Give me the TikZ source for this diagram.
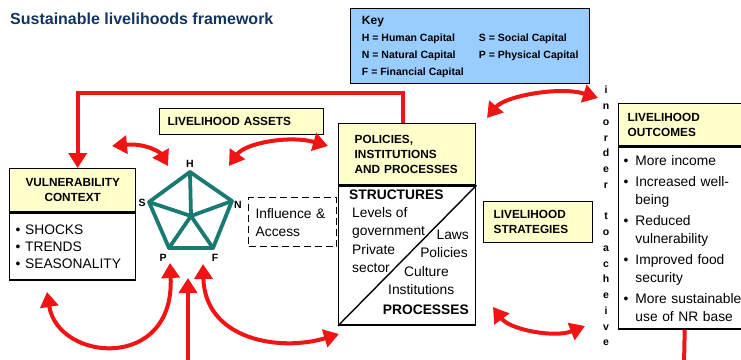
\documentclass[tikz,border=0pt]{standalone}
\usepackage{fontspec}
\setmainfont{Liberation Sans}
\usetikzlibrary{arrows.meta}

\definecolor{slred}{RGB}{240,20,20}
\definecolor{slyellow}{RGB}{255,255,204}
\definecolor{slblue}{RGB}{153,204,255}
\definecolor{slteal}{RGB}{24,122,112}
\definecolor{sltitle}{RGB}{20,52,96}

\begin{document}
\begin{tikzpicture}[x=1pt, y=-1pt, >={Triangle[length=15pt,width=18pt]},
    box/.style={draw, line width=1.4pt, anchor=north west, inner ysep=0pt},
    head/.style={box, fill=slyellow, align=left, font=\fontsize{11.8}{15}\selectfont\bfseries},
    body/.style={box, align=left, font=\fontsize{13.8}{18}\selectfont},
    txt/.style={inner sep=0pt, font=\fontsize{13.8}{18}\selectfont},
    tag/.style={inner sep=0pt, font=\fontsize{10.5}{12}\selectfont\bfseries},
    pent/.style={slteal, line width=3.8pt, line join=round, line cap=round},
    flow/.style={slred, line width=4pt}]

    \useasboundingbox (0,0) rectangle (741,359);

    \node[anchor=base west, inner sep=0pt, text=sltitle, font=\fontsize{16}{18}\selectfont\bfseries] (title) at (10,24) {Sustainable livelihoods framework};

    % key
    \node[box, fill=slblue, minimum width=239pt, minimum height=75pt, font=\fontsize{10.5}{17}\selectfont\bfseries] (key) at (350,8) {%
        \begin{tabular}{@{}p{117pt}@{}l@{}}
            \multicolumn{2}{@{}l}{\fontsize{12}{14}\selectfont Key}\\
            H = Human Capital & S = Social Capital\\
            N = Natural Capital & P = Physical Capital\\
            F = Financial Capital &
        \end{tabular}};

    % boxes
    \node[head, text width=118pt, inner xsep=4pt, align=center, minimum height=43pt] (vulh) at (9,168) {VULNERABILITY\\CONTEXT};
    \node[body, text width=114pt, inner xsep=6pt, minimum height=67pt, font=\fontsize{13.8}{17}\selectfont] (vulb) at (vulh.south west) {\textbullet~SHOCKS\\ \textbullet~TRENDS\\ \textbullet~SEASONALITY};

    \node[head, text width=148pt, inner xsep=8pt, minimum height=26pt] (assets) at (159,108) {LIVELIHOOD ASSETS};

    \node[box, dash pattern=on 7pt off 4pt, line width=1.3pt, text width=74pt, inner xsep=7pt, minimum height=49pt, align=left, font=\fontsize{13.8}{18}\selectfont] (infl) at (248,197) {Influence \&\\Access};

    \node[head, text width=105pt, inner xsep=16pt, minimum height=61pt] (polh) at (338,123) {POLICIES,\\INSTITUTIONS\\AND PROCESSES};
    \node[box, minimum width=137pt, minimum height=139pt] (polb) at (polh.south west) {};
    \draw[line width=1.4pt] (polb.south west) -- (polb.north east);

    \node[txt, font=\fontsize{13.8}{18}\selectfont\bfseries, anchor=base west] (struct) at (349,199) {STRUCTURES};
    \node[txt, anchor=base west] (lev) at (352,217) {Levels of};
    \node[txt, anchor=base west] (gov) at (352,235) {government};
    \node[txt, anchor=base west] (priv) at (352,254) {Private};
    \node[txt, anchor=base west] (sect) at (352,272) {sector};
    \node[txt, anchor=base east] (laws) at (469,239) {Laws};
    \node[txt, anchor=base east] (pols) at (468,257) {Policies};
    \node[txt, anchor=base west] (cult) at (404,276) {Culture};
    \node[txt, anchor=base west] (inst) at (388,294) {Institutions};
    \node[txt, font=\fontsize{13.8}{18}\selectfont\bfseries, anchor=base east] (proc) at (469,314) {PROCESSES};

    \node[head, text width=89pt, inner xsep=10pt, minimum height=41pt] (strat) at (483,201) {LIVELIHOOD\\STRATEGIES};

    \node[tag, align=center, font=\fontsize{10.5}{15.75}\selectfont\bfseries] (order) at (606,216) {i\\n\\o\\r\\d\\e\\r\\[15.75pt]t\\o\\a\\c\\h\\e\\i\\v\\e};

    \node[head, text width=114pt, inner xsep=9pt, minimum height=42pt] (outh) at (618,103) {LIVELIHOOD\\OUTCOMES};
    \node[body, text width=122pt, inner xsep=5pt, minimum height=182pt] (outb) at (outh.south west) {%
        \textbullet\enspace More income\\[3pt]
        \textbullet\enspace Increased well-\\
        \hphantom{\textbullet\enspace}being\\[3pt]
        \textbullet\enspace Reduced\\
        \hphantom{\textbullet\enspace}vulnerability\\[3pt]
        \textbullet\enspace Improved food\\
        \hphantom{\textbullet\enspace}security\\[3pt]
        \textbullet\enspace More sustainable\\
        \hphantom{\textbullet\enspace}use of NR base};

    % asset pentagon
    \coordinate (H) at (190,172);
    \coordinate (N) at (232,201);
    \coordinate (F) at (213,248);
    \coordinate (P) at (169,248);
    \coordinate (S) at (149,202);
    \coordinate (C) at (191,216);
    \draw[pent] (H) -- (N) -- (F) -- (P) -- (S) -- cycle;
    \draw[pent] (C) -- (H);
    \draw[pent] (C) -- (N);
    \draw[pent] (C) -- (F);
    \draw[pent] (C) -- (P);
    \draw[pent] (C) -- (S);
    \node[tag] (labH) at (190,164) {H};
    \node[tag] (labS) at (142,203) {S};
    \node[tag] (labN) at (238,205) {N};
    \node[tag] (labP) at (163,258) {P};
    \node[tag] (labF) at (215,258) {F};

    % red links
    \coordinate (vulNE) at (112,146);
    \coordinate (hLeft) at (168,166);
    \coordinate (hRight) at (229,166);
    \coordinate (polW) at (328,146);
    \coordinate (polNE) at (487,118);
    \coordinate (outNW) at (598,98);
    \coordinate (vulS) at (47,292);
    \coordinate (pBelow) at (170,263);
    \coordinate (fBelow) at (203,264);
    \coordinate (polSW) at (339,334);
    \coordinate (polSE) at (493,307);
    \coordinate (stratS) at (585,326);
    \coordinate (botIn) at (188,365);
    \coordinate (pentB) at (188,278);
    \coordinate (outBot) at (684,365);

    \draw[flow,->] ([xshift=-4pt]polh.north) -- ++(0,-30) -| ([xshift=5pt]vulh.north);
    \draw[flow,<->] (vulNE) .. controls (145,143) and (160,152) .. (hLeft);
    \draw[flow,<->] (hRight) .. controls (245,143) and (290,135) .. (polW);
    \draw[flow,<->] (polNE) .. controls (505,96) and (560,86) .. (outNW);
    \draw[flow,<->] (vulS) .. controls (58,362) and (175,372) .. (pBelow);
    \draw[flow,<->] (fBelow) .. controls (205,340) and (280,352) .. (polSW);
    \draw[flow,<->] (polSE) .. controls (510,330) and (555,338) .. (stratS);
    \draw[flow,->] (botIn) -- (pentB);
    \draw[flow] (outb.south) -- (outBot);
\end{tikzpicture}
\end{document}
